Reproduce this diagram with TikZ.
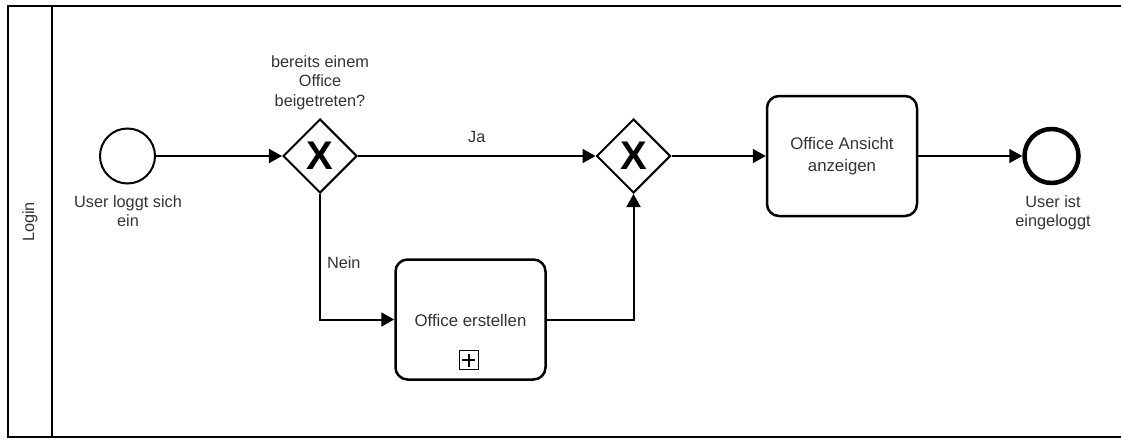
\documentclass[tikz,border=0pt]{standalone}
\usepackage{fontspec}
\setmainfont{Liberation Sans}
\usetikzlibrary{shapes.geometric,arrows.meta}
\begin{document}
\begin{tikzpicture}[x=1pt,y=-1pt,
  lbl/.style={font=\fontsize{16.3}{19.5}\selectfont, text=black!80, align=center, inner sep=0pt},
  tasklbl/.style={font=\fontsize{16.8}{22}\selectfont, text=black!80, align=center},
  flow/.style={line width=2pt, -{Triangle[length=13pt,width=14pt]}},
  gw/.style={draw, diamond, aspect=1, minimum width=74pt, minimum height=74pt, inner sep=0pt, line width=2pt,
     label={[font=\fontsize{40}{40}\bfseries, inner sep=0pt]center:X}},
  task/.style={draw, rounded corners=12pt, minimum width=150pt, minimum height=120pt, line width=2.5pt, inner sep=0pt},
  startev/.style={draw, circle, minimum size=55pt, inner sep=0pt, line width=2pt},
  endev/.style={draw, circle, minimum size=54pt, inner sep=0pt, line width=4.5pt}]
\useasboundingbox (0,0) rectangle (1121,439);
% pool
\draw[line width=2.5pt] (1125,6) -- (8,6) -- (8,437) -- (1125,437);
\draw[line width=2.5pt] (52,6) -- (52,437);
\node[lbl, rotate=90] (lane) at (30,222) {Login};
% nodes
\node[startev] (start) at (127.5,156) {};
\node[lbl, anchor=north] (startlbl) at (128,195) {User loggt sich\\ein};
\node[gw] (g1) at (320,156) {};
\node[lbl, anchor=south] (g1lbl) at (320,110) {bereits einem\\Office\\beigetreten?};
\node[gw] (g2) at (633.5,156) {};
\node[task] (t2) at (842,156) {};
\node[tasklbl] (t2lbl) at (842,156) {Office Ansicht\\anzeigen};
\node[endev] (end) at (1051.5,156) {};
\node[lbl, anchor=north] (endlbl) at (1053,195) {User ist\\eingeloggt};
\node[task] (t1) at (470.5,319.5) {};
\node[tasklbl] (t1lbl) at (470.5,320) {Office erstellen};
\node[draw, line width=1pt, minimum size=19pt, inner sep=0pt] (marker) at (468.5,360) {};
\draw[line width=2pt] (marker.center) +(-6.5,0) -- +(6.5,0) (marker.center) +(0,-6.5) -- +(0,6.5);
% flows
\draw[flow] (start) -- (g1);
\draw[flow] (g1) -- node[lbl, above=12pt] (ja) {Ja} (g2);
\draw[flow] (g2) -- (t2);
\draw[flow] (t2) -- (end);
\draw[flow] (g1.south) |- (t1.west) node[lbl, pos=0.275, right=6pt] (nein) {Nein};
\draw[flow] (t1.east) -| (g2.south);
\end{tikzpicture}
\end{document}
